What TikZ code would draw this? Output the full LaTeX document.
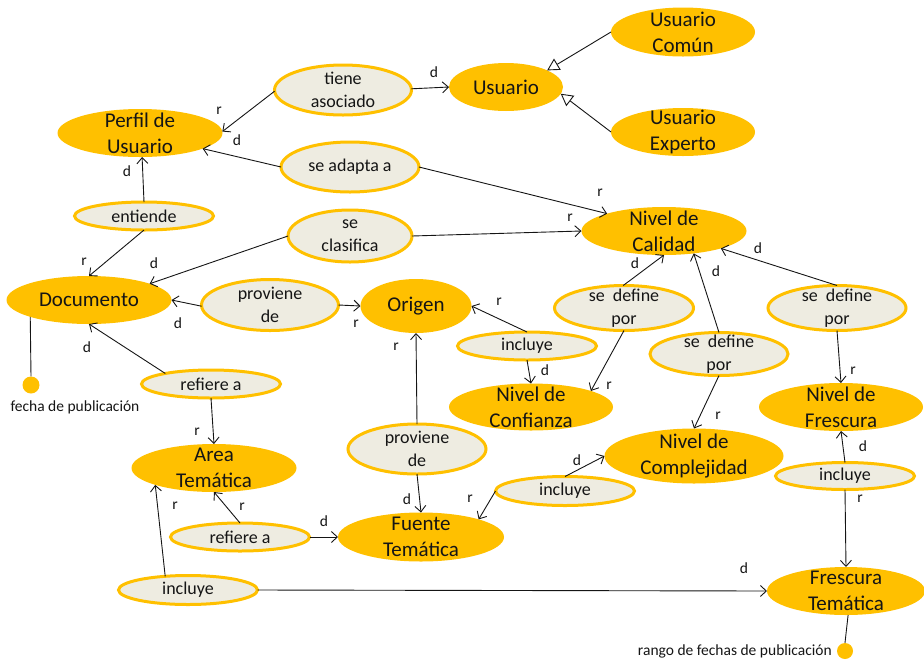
\documentclass[tikz,border=0pt]{standalone}
\usepackage{fontspec}
\setmainfont{Carlito}
\usetikzlibrary{shapes.geometric,arrows.meta}

\definecolor{conceptfill}{HTML}{FFC000}
\definecolor{relfill}{HTML}{EEECE1}
\definecolor{ink}{HTML}{151515}

\tikzset{
  concept/.style={ellipse, fill=conceptfill, inner sep=0pt, outer sep=0pt},
  relation/.style={ellipse, fill=relfill, draw=conceptfill, line width=3pt, inner sep=0pt, outer sep=0pt},
  ctext/.style={font=\fontsize{21}{26}\selectfont, align=center, text=ink, inner sep=0pt},
  rtext/.style={font=\fontsize{18}{23}\selectfont, align=center, text=ink, inner sep=0pt},
  lab/.style={font=\fontsize{15.5}{18}\selectfont, text=ink, inner sep=0pt},
  attrdot/.style={circle, fill=conceptfill, inner sep=0pt, minimum size=17pt},
  link/.style={draw=ink, line width=0.9pt, -{Straight Barb[length=6pt,width=11pt]}},
  isa/.style={draw=ink, line width=0.9pt, -{Triangle[open,length=12pt,width=13pt,fill=white]}},
  plain/.style={draw=ink, line width=0.9pt},
}

\begin{document}
\begin{tikzpicture}[x=1pt,y=-1pt]
\useasboundingbox (0,0) rectangle (924,665);

% ---------- concepts ----------
\node[concept, minimum width=114pt, minimum height=48pt, label={[ctext]center:Usuario}] (usuario) at (506,87) {};
\node[concept, minimum width=144pt, minimum height=49pt, label={[ctext]center:Usuario\\Común}] (ucomun) at (683,32) {};
\node[concept, minimum width=144pt, minimum height=48pt, label={[ctext]center:Usuario\\Experto}] (uexperto) at (683,132) {};
\node[concept, minimum width=165pt, minimum height=48pt, label={[ctext]center:Perfil de\\Usuario}] (perfil) at (140,133) {};
\node[concept, minimum width=165pt, minimum height=48pt, label={[ctext]center:Documento}] (documento) at (89,300) {};
\node[concept, minimum width=111pt, minimum height=54pt, label={[ctext]center:Origen}] (origen) at (416,306) {};
\node[concept, minimum width=165pt, minimum height=48pt, label={[ctext]center:Nivel de\\Calidad}] (calidad) at (664,231) {};
\node[concept, minimum width=164pt, minimum height=47pt, label={[ctext]center:Nivel de\\Confianza}] (confianza) at (531,407) {};
\node[concept, minimum width=179pt, minimum height=55pt, label={[ctext]center:Nivel de\\Complejidad}] (complejidad) at (694,456) {};
\node[concept, minimum width=164pt, minimum height=48pt, label={[ctext]center:Nivel de\\Frescura}] (frescura) at (841,407) {};
\node[concept, minimum width=165pt, minimum height=48pt, label={[ctext]center:Area\\Temática}] (area) at (214,468) {};
\node[concept, minimum width=166pt, minimum height=49pt, label={[ctext]center:Fuente\\Temática}] (fuente) at (421,537) {};
\node[concept, minimum width=158pt, minimum height=48pt, label={[ctext]center:Frescura\\Temática}] (frestem) at (846,591) {};

% ---------- relations ----------
\node[relation, minimum width=137pt, minimum height=50pt, label={[rtext]center:tiene\\asociado}] (tiene) at (343,90) {};
\node[relation, minimum width=138pt, minimum height=50pt, label={[rtext]center:se adapta a}] (adapta) at (350,167) {};
\node[relation, minimum width=139pt, minimum height=28pt, label={[rtext]center:entiende}] (entiende) at (144,216) {};
\node[relation, minimum width=124pt, minimum height=52pt, label={[rtext]center:se\\clasifica}] (clasifica) at (350,236) {};
\node[relation, minimum width=137pt, minimum height=51pt, label={[rtext]center:proviene\\de}] (proviene1) at (270,305) {};
\node[relation, minimum width=139pt, minimum height=28pt, label={[rtext]center:incluye}] (incluye1) at (527,346) {};
\node[relation, minimum width=139pt, minimum height=45pt, label={[rtext]center:se\hspace{0.45em}define\\por}] (definea) at (624,308) {};
\node[relation, minimum width=138pt, minimum height=43pt, label={[rtext]center:se\hspace{0.45em}define\\por}] (defineb) at (719,354) {};
\node[relation, minimum width=138pt, minimum height=45pt, label={[rtext]center:se\hspace{0.45em}define\\por}] (definec) at (837,308) {};
\node[relation, minimum width=139pt, minimum height=28pt, label={[rtext]center:refiere a}] (refiere1) at (211,384) {};
\node[relation, minimum width=138pt, minimum height=50pt, label={[rtext]center:proviene\\de}] (proviene2) at (417,449) {};
\node[relation, minimum width=139pt, minimum height=29pt, label={[rtext]center:incluye}] (incluye3) at (565,491) {};
\node[relation, minimum width=139pt, minimum height=27pt, label={[rtext]center:incluye}] (incluye4) at (845,476) {};
\node[relation, minimum width=139pt, minimum height=28pt, label={[rtext]center:refiere a}] (refiere2) at (240,537) {};
\node[relation, minimum width=139pt, minimum height=29pt, label={[rtext]center:incluye}] (incluye5) at (188,590) {};

% ---------- attribute markers ----------
\node[attrdot] (fechadot) at (31,385) {};
\node[lab] (fechatext) at (75,407) {fecha de publicación};
\node[attrdot, minimum size=16pt] (rangodot) at (845,651) {};
\node[lab, anchor=east] (rangotext) at (832,651) {rango de fechas de publicación};

\draw[plain] (documento.196.6) -- (fechadot.north);
\draw[plain] (frestem.275) -- (rangodot.north);

% ---------- generalisation ----------
\draw[isa] (ucomun.west) -- (usuario.22);
\draw[isa] (uexperto.west) -- (usuario.-7);

% ---------- associations ----------
\draw[link] (tiene.181) -- (perfil.1);
\draw[link] (tiene.1) -- (usuario.west);
\draw[link] (adapta.180) -- (perfil.-14.5);
\draw[link] (adapta.0) -- (calidad.163.4);
\draw[link] (entiende.north) -- (perfil.275);
\draw[link] (entiende.south) -- (documento.north);
\draw[link] (clasifica.180) -- (documento.15);
\draw[link] (clasifica.0) -- (calidad.west);
\draw[link] (proviene1.181) -- (documento.east);
\draw[link] (proviene1.0) -- (origen.west);
\draw[link] (incluye1.north) -- (origen.0);
\draw[link] (incluye1.south) -- (confianza.north);
\draw[link] (definea.92) -- (calidad.south);
\draw[link] (definea.south) -- (confianza.15);
\draw[link] (defineb.north) -- (calidad.-37.5);
\draw[link] (defineb.south) -- (complejidad.north);
\draw[link] (definec.north) -- (calidad.-17);
\draw[link] (definec.south) -- (frescura.north);
\draw[link] (refiere1.167.8) -- (documento.south);
\draw[link] (refiere1.south) -- (area.north);
\draw[link] (proviene2.north) -- (origen.south);
\draw[link] (proviene2.south) -- (fuente.north);
\draw[link] (incluye3.180) -- (fuente.17.5);
\draw[link] (incluye3.north) -- (complejidad.west);
\draw[link] (incluye4.north) -- (frescura.south);
\draw[link] (incluye4.south) -- (frestem.north);
\draw[link] (refiere2.north) -- (area.south);
\draw[link] (refiere2.east) -- (fuente.west);
\draw[link] (incluye5.149) -- (area.196);
\draw[link] (incluye5.east) -- (frestem.west);

% ---------- role labels ----------
\node[lab] (l01) at (219,111) {r};
\node[lab] (l02) at (434,72) {d};
\node[lab] (l03) at (237,140) {d};
\node[lab] (l04) at (600,193) {r};
\node[lab] (l05) at (127,171) {d};
\node[lab] (l06) at (84,262) {r};
\node[lab] (l07) at (154,263) {d};
\node[lab] (l08) at (570,218) {r};
\node[lab] (l09) at (178,323) {d};
\node[lab] (l10) at (356,324) {r};
\node[lab] (l11) at (499,302) {r};
\node[lab] (l12) at (545,370) {d};
\node[lab] (l13) at (635,263) {d};
\node[lab] (l14) at (609,386) {r};
\node[lab] (l15) at (716,271) {d};
\node[lab] (l16) at (718,416) {r};
\node[lab] (l17) at (758,248) {d};
\node[lab] (l18) at (853,371) {r};
\node[lab] (l19) at (87,347) {d};
\node[lab] (l20) at (197,432) {r};
\node[lab] (l21) at (396,347) {r};
\node[lab] (l22) at (407,499) {d};
\node[lab] (l23) at (470,499) {r};
\node[lab] (l24) at (577,460) {d};
\node[lab] (l25) at (863,446) {d};
\node[lab] (l26) at (860,499) {r};
\node[lab] (l27) at (242,507) {r};
\node[lab] (l28) at (324,521) {d};
\node[lab] (l29) at (175,506) {r};
\node[lab] (l30) at (744,568) {d};
\end{tikzpicture}
\end{document}
